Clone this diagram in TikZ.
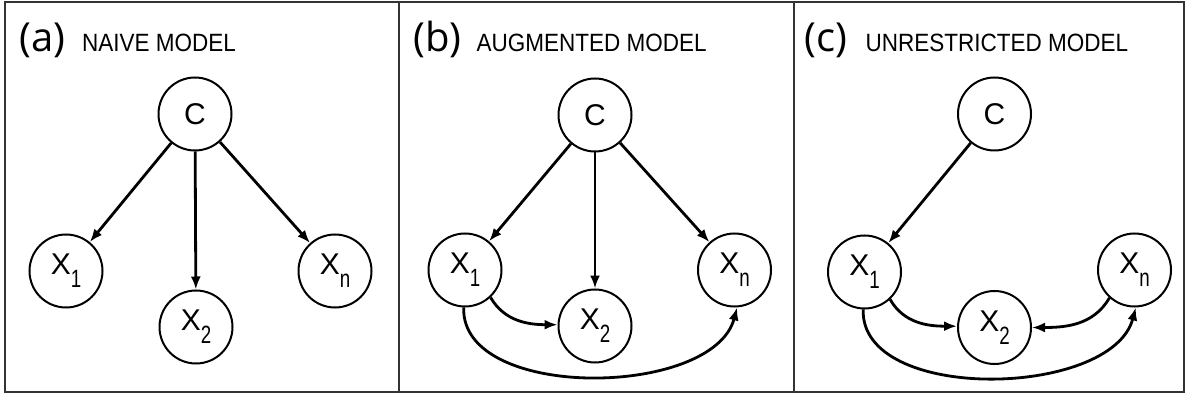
\documentclass[tikz,border=0pt]{standalone}
\usepackage{fontspec}
\setmainfont{Liberation Sans}
\newfontfamily\lblfont{Open Sans}
\newfontfamily\nodefont{Liberation Sans}
\usetikzlibrary{arrows.meta}
\newcommand\xsub[1]{X\raisebox{-13pt}{\fontsize{25}{25}\selectfont\scalebox{0.75}[1]{#1}}}
\newcommand\ttl[1]{\scalebox{0.9}[1]{#1}}
\begin{document}
\begin{tikzpicture}[x=1pt,y=-1pt,
  var/.style={circle, draw, line width=2pt, minimum size=73pt, inner sep=0pt,
    font=\nodefont\fontsize{30}{30}\selectfont},
  edge/.style={line width=2.8pt, -{Latex[length=13pt,width=10pt]}},
  panel/.style={font=\lblfont\fontsize{40}{40}\selectfont, anchor=base west, inner sep=0pt},
  title/.style={font=\nodefont\fontsize{25}{25}\selectfont, anchor=base west, inner sep=0pt},
  frame/.style={line width=2pt, draw=black!80}]
\useasboundingbox (0,0) rectangle (1185,395);
% frames
\draw[frame] (5,2) rectangle (1183.5,392);
\draw[frame] (399,2) -- (399,392);
\draw[frame] (794,2) -- (794,392);
% titles
\node[panel] (la) at (19,52) {(a)};
\node[title] (ta) at (82,52) {\ttl{NAIVE MODEL}};
\node[panel] (lb) at (413,52) {(b)};
\node[title] (tb) at (476.5,52) {\ttl{AUGMENTED MODEL}};
\node[panel] (lc) at (804,52) {(c)};
\node[title] (tc) at (865.5,52) {\ttl{UNRESTRICTED MODEL}};
% panel a
\node[var] (aC) at (195,114) {C};
\node[var] (aX1) at (66,271) {\xsub{1}};
\node[var] (aX2) at (196,327) {\xsub{2}};
\node[var] (aXn) at (335,271) {\xsub{n}};
\draw[edge] (aC) -- (aX1);
\draw[edge] (aC) -- (aX2);
\draw[edge] (aC) -- (aXn);
% panel b
\node[var] (bC) at (595,115) {C};
\node[var] (bX1) at (465,270) {\xsub{1}};
\node[var] (bX2) at (595,326) {\xsub{2}};
\node[var] (bXn) at (734.5,270) {\xsub{n}};
\draw[edge] (bC) -- (bX1);
\draw[edge] (bC) -- (bX2);
\draw[edge] (bC) -- (bXn);
\draw[edge] (bX1.-47) to[out=-60,in=180] (bX2.178);
\draw[edge] (bX1.-92) to[out=-92,in=-105,looseness=0.88] (bXn.-86);
% panel c
\node[var] (cC) at (994.5,114) {C};
\node[var] (cX1) at (864.5,272) {\xsub{1}};
\node[var] (cX2) at (994.5,327.5) {\xsub{2}};
\node[var] (cXn) at (1134.5,270) {\xsub{n}};
\draw[edge] (cC) -- (cX1);
\draw[edge] (cX1.-47) to[out=-60,in=180] (cX2.178);
\draw[edge] (cXn.-132) to[out=-120,in=0] (cX2.0);
\draw[edge] (cX1.-92) to[out=-92,in=-105,looseness=0.88] (cXn.-88);
\end{tikzpicture}
\end{document}
